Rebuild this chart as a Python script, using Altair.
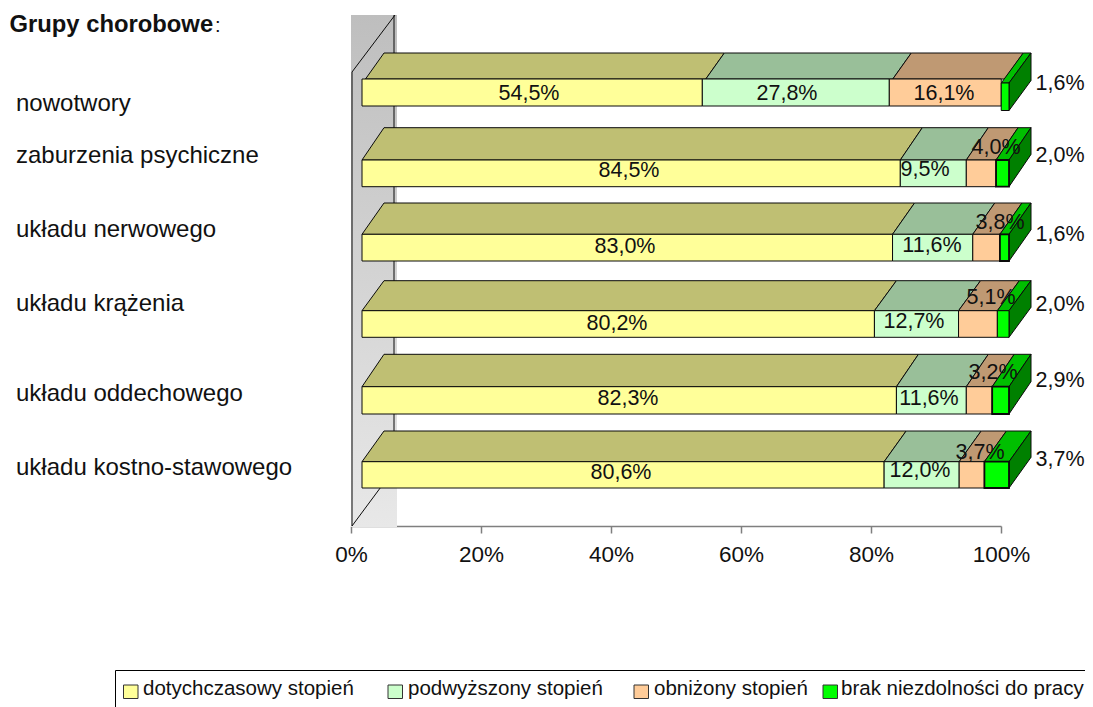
import altair as alt
import pandas as pd

# ---------- values ----------
categories = ["nowotwory", "zaburzenia psychiczne", "układu nerwowego",
              "układu krążenia", "układu oddechowego", "układu kostno-stawowego"]
series = ["dotychczasowy stopień", "podwyższony stopień", "obniżony stopień", "brak niezdolności do pracy"]

# printed labels, one list per series
labels_s1 = ["54,5%", "84,5%", "83,0%", "80,2%", "82,3%", "80,6%"]
labels_s2 = ["27,8%", "9,5%", "11,6%", "12,7%", "11,6%", "12,0%"]
labels_s3 = ["16,1%", "4,0%", "3,8%", "5,1%", "3,2%", "3,7%"]
labels_s4 = ["1,6%", "2,0%", "1,6%", "2,0%", "2,9%", "3,7%"]

# drawn segment lengths (share of the bar, %)
drawn_s1 = [52.6, 83.2, 82.0, 79.2, 82.6, 80.7]
drawn_s2 = [28.9, 10.2, 12.4, 13.0, 10.8, 11.6]
drawn_s3 = [17.3, 4.6, 4.2, 6.0, 4.0, 3.9]
drawn_s4 = [1.2, 2.0, 1.4, 1.8, 2.6, 3.8]

tick_values = [0, 20, 40, 60, 80, 100]

# ---------- styles and placement ----------
FRONT = ["#FFFF99", "#CCFFCC", "#FFCC99", "#00FF00"]
TOP = ["#BFBF73", "#99BF99", "#BF9973", "#00BF00"]
SIDE = "#008000"
LINE = "#0A0A0A"
FONT = "Liberation Sans"
W, H = 1077, 699
FS_VAL, FS_CAT, FS_TICK, FS_LEG = 21.5, 24, 22.5, 20.5

# page pixel <-> data unit helpers (the scales below stay linear)
PCT_PX = 6.5
ROW_PX = 75.8
def ax(px): return (px - 351) / PCT_PX
def ry(py): return (py - 84) / ROW_PX

x_scale = alt.Scale(domain=[0, 100], range=[343, 993], nice=False, zero=False)
y_scale = alt.Scale(domain=[0, 5], range=[76, 455], nice=False, zero=False)
AXIS = alt.Axis(values=tick_values, labelExpr="datum.value + '%'", title=None,
                offset=-181, grid=False, domainColor="#7F7F7F", tickColor="#7F7F7F",
                domainWidth=1.5, tickWidth=1.5, tickSize=7, labelFont=FONT, labelFontSize=FS_TICK,
                labelColor="#111111", labelPadding=10, labelFlush=False, labelOverlap=False)
X = lambda f: alt.X(f, type="quantitative", scale=x_scale, axis=AXIS)
Y = lambda f: alt.Y(f, type="quantitative", scale=y_scale, axis=None)

front_top = [79, 160, 234.3, 310.7, 386.7, 461.7]
front_bot = [106, 186.7, 261, 337.3, 414, 488]
back_top = [53, 127.7, 203, 280.7, 354.3, 431]
BAR_L, BAR_R = 362, 1009
DX = 22
green_thick = [1, 1.8, 1.8, 1, 1.8, 1.8]

rects, tops, sides = [], [], []
drawn = [drawn_s1, drawn_s2, drawn_s3, drawn_s4]
for r in range(6):
    left = BAR_L
    total = sum(d[r] for d in drawn)
    for s in range(4):
        right = left + drawn[s][r] / total * (BAR_R - BAR_L)
        ft, fb, bt = front_top[r], front_bot[r], back_top[r]
        fs = 0.0
        if r == 0:
            fs = 3.5
            if s == 3:
                ft, fb, fs = 83, 110.5, 0.0
        rects.append(dict(x=ax(left), x2=ax(right), y=ry(ft), y2=ry(fb), c=FRONT[s],
                          sw=green_thick[r] if s == 3 else 1))
        face = f"{r}-{s}"
        tops.append(dict(face=face, x=ax(left + DX), x2=ax(right + DX), y=ry(bt), c=TOP[s]))
        tops.append(dict(face=face, x=ax(left + fs), x2=ax(right + fs), y=ry(ft), c=TOP[s]))
        if s == 3:
            h = fb - ft
            sides.append(dict(face=f"{r}", x=ax(right), y=ry(ft), y2=ry(fb)))
            sides.append(dict(face=f"{r}", x=ax(right + DX), y=ry(bt), y2=ry(bt + h)))
        left = right

# wall
wall = pd.DataFrame([dict(x=ax(351), x2=ax(397), y=ry(15), y2=ry(527))])
wall_lines = pd.DataFrame([
    dict(x=ax(352), x2=ax(352), y=ry(72), y2=ry(526)),
    dict(x=ax(352), x2=ax(395), y=ry(72), y2=ry(15)),
    dict(x=ax(394), x2=ax(394), y=ry(15), y2=ry(470)),
    dict(x=ax(352), x2=ax(395), y=ry(526), y2=ry(468)),
])

grad = alt.LinearGradient(gradient="linear", x1=0, y1=0, x2=0, y2=1,
                          stops=[alt.GradientStop(offset=0, color="#BEBEBE"),
                                 alt.GradientStop(offset=1, color="#E8E8E8")])
l_wall = alt.Chart(wall).mark_rect(color=grad).encode(x=X("x"), x2="x2", y=Y("y"), y2="y2")
l_lines = alt.Chart(wall_lines).mark_rule(color=LINE, strokeWidth=1).encode(x=X("x"), x2="x2", y=Y("y"), y2="y2")

l_tops = alt.Chart(pd.DataFrame(tops)).mark_area(orient="horizontal", stroke=LINE, strokeWidth=1).encode(
    x=X("x"), x2="x2", y=Y("y"),
    fill=alt.Fill("c:N", scale=None), detail="face:N")
l_sides = alt.Chart(pd.DataFrame(sides)).mark_area(orient="vertical", stroke=LINE, strokeWidth=1, color=SIDE).encode(
    x=X("x"), y=Y("y"), y2="y2", detail="face:N")
l_rects = alt.Chart(pd.DataFrame(rects)).mark_rect(stroke=LINE).encode(
    x=X("x"), x2="x2", y=Y("y"), y2="y2",
    fill=alt.Fill("c:N", scale=None), strokeWidth=alt.StrokeWidth("sw:Q", scale=None))

# value labels
label_x = [[529, 629, 625, 617, 628, 621], [787, 925, 932, 914, 929, 920],
           [944, 996, 1000, 991, 993, 980], [1060, 1060, 1060, 1060, 1060, 1060]]
label_y = [[94, 171, 247, 324, 399, 473], [94, 170, 246, 322, 399, 471],
           [94, 148, 223, 298, 373, 453], [84, 156, 235, 305, 381, 460]]
all_labels = [labels_s1, labels_s2, labels_s3, labels_s4]
lab = pd.DataFrame([dict(t=all_labels[s][r], x=ax(label_x[s][r]), y=ry(label_y[s][r]))
                    for s in range(4) for r in range(6)])
l_labels = alt.Chart(lab).mark_text(font=FONT, fontSize=FS_VAL, color="#111111", align="center", baseline="middle").encode(
    x=X("x"), y=Y("y"), text="t:N")

# category labels (free text boxes in the source)
cat_y = [104, 156, 230, 304, 394, 468]
cat = pd.DataFrame(dict(t=categories, x=[ax(16)] * 6, y=[ry(v) for v in cat_y]))
l_cats = alt.Chart(cat).mark_text(font=FONT, fontSize=FS_CAT, color="#111111", align="left", baseline="middle").encode(
    x=X("x"), y=Y("y"), text="t:N")

l_title = alt.Chart(pd.DataFrame(dict(t=["Grupy chorobowe"], x=[ax(9.5)], y=[ry(25)]))).mark_text(
    font=FONT, fontSize=23.8, fontWeight="bold", color="#111111", align="left", baseline="middle").encode(
    x=X("x"), y=Y("y"), text="t:N")
l_colon = alt.Chart(pd.DataFrame(dict(t=[":"], x=[ax(215)], y=[ry(26)]))).mark_text(
    font=FONT, fontSize=20, color="#111111", align="left", baseline="middle").encode(
    x=X("x"), y=Y("y"), text="t:N")

# legend
box = pd.DataFrame([dict(x=ax(115.5), x2=ax(1200), y=ry(670.5), y2=ry(730))])
l_box = alt.Chart(box).mark_rect(fill="white", stroke="black", strokeWidth=1).encode(
    x=X("x"), x2="x2", y=Y("y"), y2="y2")
sw_x = [123.5, 388, 634, 823]
txt_x = [143, 408, 654, 841]
sw = pd.DataFrame(dict(x=[ax(v) for v in sw_x], x2=[ax(v + 14.5) for v in sw_x],
                       y=[ry(685)] * 4, y2=[ry(698.5)] * 4, c=FRONT))
l_sw = alt.Chart(sw).mark_rect(stroke="#333333", strokeWidth=1).encode(
    x=X("x"), x2="x2", y=Y("y"), y2="y2", fill=alt.Fill("c:N", scale=None))
tx = pd.DataFrame(dict(t=series, x=[ax(v) for v in txt_x], y=[ry(688.5)] * 4))
l_tx = alt.Chart(tx).mark_text(font=FONT, fontSize=FS_LEG, color="#111111", align="left", baseline="middle").encode(
    x=X("x"), y=Y("y"), text="t:N")

chart = alt.layer(l_wall, l_lines, l_tops, l_sides, l_rects, l_labels, l_cats,
                  l_title, l_colon, l_box, l_sw, l_tx).properties(
    width=W, height=H, padding=0, autosize=alt.AutoSizeParams(type="none"), background="white"
).configure_view(stroke=None)

chart.save("out.html", embed_options={"renderer": "svg", "actions": False})
